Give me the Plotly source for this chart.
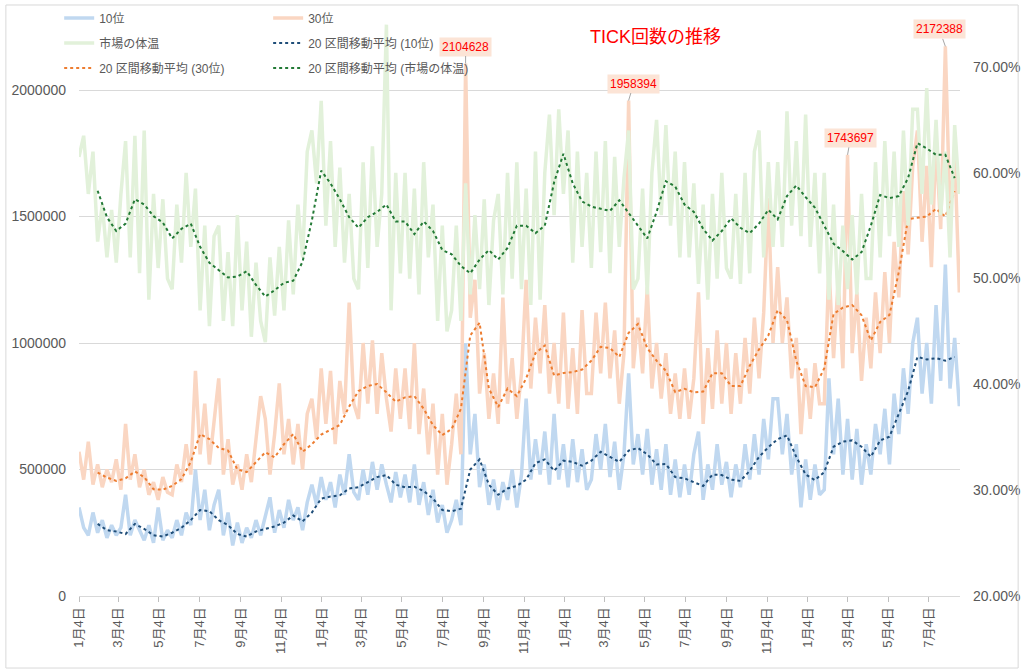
import pandas as pd
import plotly.graph_objects as go

# weekly samples of the daily series (10位 / 30位 / 市場の体温)
raw_dates = pd.date_range("2021-01-04", periods=190, freq="7D")

top10 = [350000, 270000, 240000, 330000, 250000, 300000, 230000, 280000, 240000, 270000,
         400000, 240000, 300000, 260000, 220000, 280000, 210000, 350000, 220000, 260000,
         230000, 300000, 240000, 330000, 280000, 500000, 300000, 420000, 260000, 360000,
         420000, 240000, 330000, 200000, 290000, 210000, 270000, 230000, 300000, 240000,
         320000, 390000, 250000, 340000, 270000, 380000, 300000, 350000, 260000, 370000,
         440000, 360000, 470000, 380000, 450000, 350000, 480000, 400000, 560000, 410000,
         380000, 500000, 400000, 530000, 420000, 520000, 440000, 370000, 490000, 390000,
         480000, 370000, 520000, 360000, 450000, 320000, 420000, 290000, 360000, 250000,
         300000, 380000, 280000, 1000000, 560000, 720000, 430000, 520000, 360000, 460000,
         340000, 450000, 380000, 500000, 350000, 480000, 780000, 460000, 620000, 480000,
         650000, 440000, 720000, 460000, 600000, 430000, 620000, 450000, 580000, 420000,
         460000, 640000, 500000, 680000, 470000, 610000, 420000, 560000, 880000, 520000,
         640000, 480000, 660000, 440000, 580000, 420000, 600000, 400000, 540000, 390000,
         520000, 400000, 560000, 650000, 380000, 520000, 420000, 600000, 440000, 530000,
         390000, 520000, 430000, 600000, 460000, 640000, 480000, 700000, 540000, 780000,
         780000, 560000, 720000, 480000, 600000, 350000, 540000, 380000, 520000, 400000,
         420000, 860000, 560000, 780000, 480000, 700000, 460000, 660000, 440000, 600000,
         480000, 680000, 560000, 740000, 520000, 800000, 640000, 900000, 720000, 1000000,
         1100000, 800000, 1000000, 760000, 1150000, 850000, 1310000, 820000, 1020000, 750000]

top30 = [570000, 460000, 610000, 440000, 520000, 430000, 500000, 450000, 540000, 420000,
         680000, 460000, 560000, 430000, 500000, 400000, 450000, 380000, 470000, 410000,
         400000, 520000, 450000, 600000, 480000, 890000, 560000, 760000, 520000, 700000,
         860000, 480000, 620000, 440000, 520000, 420000, 560000, 450000, 620000, 790000,
         700000, 480000, 640000, 840000, 560000, 700000, 520000, 680000, 500000, 720000,
         780000, 620000, 900000, 680000, 890000, 600000, 850000, 720000, 1160000, 760000,
         700000, 1000000, 760000, 1010000, 720000, 960000, 780000, 650000, 900000, 700000,
         900000, 660000, 1000000, 640000, 820000, 560000, 760000, 480000, 720000, 440000,
         600000, 800000, 560000, 2104628, 1100000, 1250000, 800000, 960000, 700000, 880000,
         680000, 1180000, 760000, 940000, 700000, 880000, 1250000, 820000, 1100000, 880000,
         1150000, 800000, 1000000, 760000, 1120000, 740000, 980000, 720000, 1130000, 800000,
         800000, 1120000, 880000, 1160000, 860000, 1050000, 760000, 960000, 1958394, 900000,
         1100000, 880000, 1220000, 820000, 1000000, 780000, 960000, 720000, 880000, 700000,
         900000, 700000, 860000, 1200000, 680000, 980000, 740000, 1050000, 760000, 1000000,
         720000, 960000, 760000, 1020000, 800000, 1100000, 860000, 1120000, 1573000, 1000000,
         1300000, 1000000, 1180000, 860000, 1020000, 640000, 900000, 700000, 920000, 760000,
         760000, 1300000, 940000, 1250000, 900000, 1743697, 960000, 1200000, 850000, 1100000,
         900000, 1200000, 960000, 1280000, 1000000, 1400000, 1180000, 1600000, 1350000, 1700000,
         1840000, 1400000, 1700000, 1300000, 1800000, 1450000, 2172388, 1500000, 1750000, 1200000]

temp = [61.5, 63.5, 58.0, 62.0, 53.5, 57.0, 52.0, 56.5, 51.5, 58.0,
        63.0, 52.0, 63.5, 50.5, 64.0, 48.0, 58.0, 51.0, 57.5, 50.0,
        49.0, 57.0, 51.5, 60.0, 53.0, 58.5, 47.0, 55.0, 45.5, 54.0,
        55.0, 46.0, 52.5, 45.5, 56.0, 47.0, 53.5, 44.5, 51.5, 46.0,
        44.0, 52.0, 46.5, 53.0, 47.0, 55.5, 48.5, 57.0, 52.0, 62.0,
        64.0, 59.0, 66.8, 55.0, 63.0, 53.0, 60.5, 51.5, 58.0, 50.0,
        49.0, 61.0, 51.0, 62.5, 53.0, 58.0, 74.0, 47.0, 60.0, 50.5,
        60.0, 50.0, 58.5, 48.5, 61.0, 52.0, 57.0, 46.0, 55.0, 45.0,
        47.0, 55.0, 46.0, 59.0, 48.5, 56.0, 49.0, 57.5, 47.5, 55.5,
        58.0, 48.5, 60.0, 50.0, 61.0, 49.0, 58.5, 47.5, 62.0, 48.0,
        60.0, 65.5, 56.0, 66.0, 58.0, 64.0, 51.5, 62.0, 53.0, 60.0,
        51.0, 62.0, 52.5, 63.0, 50.5, 61.5, 53.0, 59.5, 64.0, 49.0,
        50.0, 58.5, 48.5, 60.0, 65.0, 56.0, 64.5, 55.0, 62.0, 52.0,
        61.0, 52.0, 59.0, 49.5, 57.0, 48.0, 58.0, 50.0, 60.0, 51.0,
        50.0, 58.0, 49.5, 60.0, 50.5, 62.0, 64.0, 52.0, 61.0, 53.0,
        61.0, 53.0, 65.8, 55.0, 63.0, 54.0, 65.5, 53.0, 60.0, 50.5,
        60.0, 48.0, 57.0, 47.5, 55.0, 49.0, 56.0, 48.5, 58.0, 50.0,
        50.0, 61.0, 52.0, 63.0, 54.0, 62.0, 53.0, 64.0, 55.0, 66.0,
        66.0, 58.0, 68.0, 57.0, 65.0, 56.0, 62.0, 52.0, 64.5, 58.0]

# 20区間移動平均, read every two weeks
ma_dates = pd.date_range("2021-02-01", periods=93, freq="14D")

ma10 = [285, 260, 255, 245, 285, 265, 240, 235, 250, 270,
        300, 340, 335, 300, 280, 245, 235, 255, 265, 275,
        290, 318, 295, 330, 385, 393, 398, 425, 430, 450,
        470, 478, 440, 430, 432, 415, 385, 340, 335, 345,
        500, 540, 440, 400, 425, 435, 460, 525, 540, 495,
        535, 530, 515, 535, 570, 550, 530, 575, 585, 560,
        520, 522, 470, 465, 450, 435, 480, 478, 460, 455,
        495, 550, 588, 620, 635, 550, 480, 458, 490, 590,
        610, 615, 590, 550, 615, 630, 720, 810, 945, 935,
        940, 930, 945]

ma30 = [488, 468, 455, 465, 492, 470, 422, 420, 435, 462,
        530, 640, 620, 585, 575, 500, 490, 530, 568, 548,
        600, 640, 570, 600, 638, 657, 676, 749, 810, 830,
        838, 805, 768, 785, 790, 740, 675, 636, 660, 740,
        1030, 1080, 820, 747, 820, 790, 860, 960, 990, 872,
        881, 885, 895, 930, 985, 980, 945, 1040, 1075, 980,
        930, 890, 806, 819, 805, 808, 880, 880, 830, 830,
        910, 975, 1030, 1130, 1090, 930, 830, 825, 900, 1115,
        1140, 1150, 1110, 1010, 1083, 1111, 1280, 1490, 1495, 1500,
        1530, 1500, 1600]

ma_temp = [58.3, 55.8, 54.5, 55.2, 57.5, 57.0, 55.9, 55.3, 53.8, 54.7,
           55.2, 53.0, 51.5, 50.8, 50.1, 50.2, 50.7, 49.4, 48.3, 48.9,
           49.6, 49.8, 51.6, 55.5, 60.2, 59.0, 57.5, 55.8, 54.8, 55.8,
           56.3, 57.0, 55.4, 55.4, 54.2, 55.4, 54.5, 52.7, 52.3, 51.2,
           50.5, 51.8, 52.7, 51.8, 52.9, 55.0, 55.0, 54.3, 55.0, 59.1,
           61.8, 59.0, 57.3, 56.8, 56.6, 56.4, 57.4, 56.2, 54.9, 53.8,
           56.3, 59.2, 58.7, 57.0, 56.3, 54.7, 53.6, 54.5, 55.7, 54.8,
           54.3, 55.2, 56.5, 55.6, 57.8, 58.8, 57.7, 56.7, 55.0, 53.3,
           52.6, 51.8, 52.5, 55.0, 57.9, 57.6, 57.8, 59.5, 62.8, 62.3,
           61.7, 61.7, 59.5]

labeled = [2104628, 1958394, 1743697, 2172388]
label_shift = [0, 5, 3, -6]

tick_dates = ["2021-01-04", "2021-03-04", "2021-05-04", "2021-07-04", "2021-09-04", "2021-11-04",
              "2022-01-04", "2022-03-04", "2022-05-04", "2022-07-04", "2022-09-04", "2022-11-04",
              "2023-01-04", "2023-03-04", "2023-05-04", "2023-07-04", "2023-09-04", "2023-11-04",
              "2024-01-04", "2024-03-04", "2024-05-04", "2024-07-04"]
tick_text = ["1月4日", "3月4日", "5月4日", "7月4日", "9月4日", "11月4日"] * 3 + ["1月4日", "3月4日", "5月4日", "7月4日"]

FONT = "Liberation Sans, Arial, Noto Sans CJK JP"
GRAY = "#595959"

fig = go.Figure()
fig.add_trace(go.Scatter(x=raw_dates, y=top10, name="10位", mode="lines",
                         line=dict(color="rgb(192,216,240)", width=3.5),
                         legend="legend", legendrank=1, legendgroup="a"))
fig.add_trace(go.Scatter(x=raw_dates, y=top30, name="30位", mode="lines",
                         line=dict(color="rgb(250,214,194)", width=3.5),
                         legend="legend2", legendrank=1, legendgroup="b"))
fig.add_trace(go.Scatter(x=ma_dates, y=[v * 1000 for v in ma10], name="20 区間移動平均 (10位)", mode="lines",
                         line=dict(color="#1F4E79", width=2, dash="dot"),
                         legend="legend2", legendrank=2, legendgroup="d"))
fig.add_trace(go.Scatter(x=ma_dates, y=[v * 1000 for v in ma30], name="20 区間移動平均 (30位)", mode="lines",
                         line=dict(color="#ED7D31", width=2, dash="dot"),
                         legend="legend", legendrank=3, legendgroup="e"))
fig.add_trace(go.Scatter(x=raw_dates, y=[v / 100 for v in temp], name="市場の体温", mode="lines",
                         line=dict(color="rgb(226,241,218)", width=3.5), yaxis="y2",
                         legend="legend", legendrank=2, legendgroup="c"))
fig.add_trace(go.Scatter(x=ma_dates, y=[v / 100 for v in ma_temp], name="20 区間移動平均 (市場の体温)", mode="lines",
                         line=dict(color="#237A36", width=2, dash="dot"), yaxis="y2",
                         legend="legend2", legendrank=3, legendgroup="f"))

# data labels on the orange spikes
for d, v in zip(raw_dates, top30):
    if v in labeled:
        fig.add_annotation(x=d, y=v, xref="x", yref="y", text=str(v),
                           showarrow=True, arrowhead=0, arrowwidth=1, arrowcolor="#A6A6A6",
                           ax=label_shift[labeled.index(v)], ay=-17,
                           font=dict(family=FONT, size=12, color="#FF0000"),
                           bgcolor="rgb(252,228,214)", borderpad=2)

fig.add_annotation(x=0.654, y=0.988, xref="paper", yref="paper", text="TICK回数の推移",
                   showarrow=False, font=dict(family=FONT, size=18, color="#FF0000"))

# chart-area border
fig.add_shape(type="rect", xref="paper", yref="paper", x0=-0.083, x1=1.066, y0=-0.1246, y1=1.0225,
              line=dict(color="#D9D9D9", width=1))

legend_style = dict(font=dict(family=FONT, size=12, color=GRAY), bgcolor="rgba(0,0,0,0)",
                    orientation="v", tracegroupgap=6, xanchor="left", yanchor="top")
fig.update_layout(
    width=1024, height=672,
    margin=dict(l=79, r=64, t=18, b=76, autoexpand=False),
    paper_bgcolor="white", plot_bgcolor="white",
    font=dict(family=FONT, color=GRAY),
    showlegend=True,
    legend=dict(x=-0.0225, y=1.025, **legend_style),
    legend2=dict(x=0.2147, y=1.025, **legend_style),
    xaxis=dict(type="date", range=["2021-01-04", "2024-08-20"],
               tickmode="array", tickvals=tick_dates, ticktext=tick_text, tickangle=-90,
               tickfont=dict(size=13, color=GRAY), showgrid=False,
               showline=True, linecolor="#D9D9D9", ticks="outside", ticklen=5, tickcolor="#BFBFBF"),
    yaxis=dict(range=[0, 2284585], tickvals=[0, 500000, 1000000, 1500000, 2000000], tickformat="d",
               tickfont=dict(size=14, color=GRAY), showgrid=True, gridcolor="#D9D9D9",
               zeroline=False, showline=False, ticklabelstandoff=12),
    yaxis2=dict(range=[0.2, 0.7463], overlaying="y", side="right",
                tickvals=[0.2, 0.3, 0.4, 0.5, 0.6, 0.7], tickformat=".2%",
                tickfont=dict(size=14, color=GRAY), showgrid=False, zeroline=False,
                showline=False, ticklabelstandoff=12),
)

fig.write_html("out.html", config={"displayModeBar": False},
               post_script="document.body.style.margin='0';")
